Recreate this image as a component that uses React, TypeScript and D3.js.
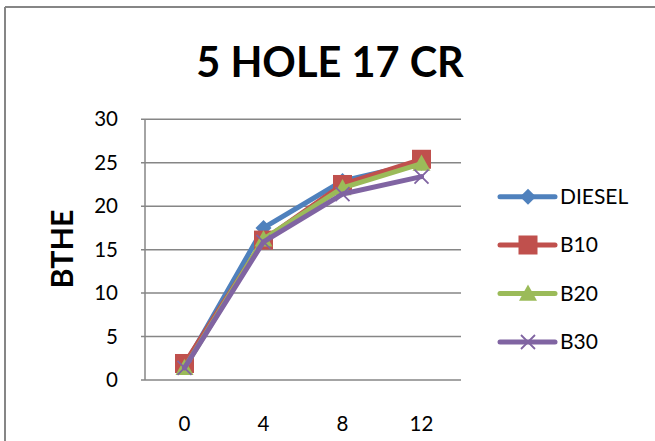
import React from "react";
import * as d3 from "d3";

const categories = ["0", "4", "8", "12"];
const diesel = [1.6, 17.5, 22.9, 25.0];
const b10 = [1.9, 16.1, 22.5, 25.4];
const b20 = [1.4, 16.2, 22.1, 24.9];
const b30 = [1.4, 15.9, 21.4, 23.4];
const yTicks = [0, 5, 10, 15, 20, 25, 30];

const seriesNames = ["DIESEL", "B10", "B20", "B30"];
const seriesColors = ["#4F81BD", "#C0504D", "#9BBB59", "#8064A2"];
const seriesMarkers = ["diamond", "square", "triangle", "cross"];

const W = 655;
const H = 441;
const plot = { left: 145, right: 461, top: 119.3, bottom: 380 };
const FONT = "Lato, 'Open Sans', sans-serif";
const GRID = "#868686";

function Marker({ type, x, y, color }: { type: string; x: number; y: number; color: string }) {
  if (type === "diamond") {
    const s = 8;
    return <path d={`M${x},${y - s}L${x + s},${y}L${x},${y + s}L${x - s},${y}Z`} fill={color} />;
  }
  if (type === "square") {
    const s = 9.5;
    return <rect x={x - s} y={y - s} width={2 * s} height={2 * s} fill={color} />;
  }
  if (type === "triangle") {
    const s = 9;
    return <path d={`M${x},${y - s}L${x + s},${y + s * 0.8}L${x - s},${y + s * 0.8}Z`} fill={color} />;
  }
  const s = 7;
  return (
    <path
      d={`M${x - s},${y - s}L${x + s},${y + s}M${x - s},${y + s}L${x + s},${y - s}`}
      stroke={color}
      strokeWidth={1.8}
      fill="none"
    />
  );
}

export default function App() {
  const data = [diesel, b10, b20, b30];
  const x = d3.scaleBand<string>().domain(categories).range([plot.left, plot.right]).padding(0);
  const y = d3.scaleLinear().domain([0, 30]).range([plot.bottom, plot.top]);
  const cx = (c: string) => (x(c) as number) + x.bandwidth() / 2;
  const line = d3
    .line<number>()
    .x((_, i) => cx(categories[i]))
    .y((d) => y(d));

  const legendX = 500;
  const legendRows = [196.7, 245, 293.5, 342];

  return (
    <svg
      width={W}
      height={H}
      style={{ position: "absolute", left: 0, top: 0, background: "#fff" }}
      fontFamily={FONT}
    >
      {/* frame */}
      <line x1={5} y1={7} x2={W} y2={7} stroke={GRID} strokeWidth={2} />
      <line x1={5} y1={7} x2={5} y2={H} stroke={GRID} strokeWidth={2} />

      {/* title */}
      <text x={330} y={77} textAnchor="middle" fontSize={41.5} fontWeight="bold" fill="#000">
        5 HOLE 17 CR
      </text>

      {/* gridlines and y axis */}
      {yTicks.map((t) => (
        <g key={t}>
          <line x1={plot.left - 4} x2={plot.right} y1={y(t)} y2={y(t)} stroke={GRID} strokeWidth={1.5} />
          <text x={118} y={y(t)} dy="0.35em" textAnchor="end" fontSize={20.5} fill="#000">
            {t}
          </text>
        </g>
      ))}
      <line x1={plot.left} x2={plot.left} y1={plot.top} y2={plot.bottom} stroke={GRID} strokeWidth={1.5} />

      {/* x labels */}
      {categories.map((c) => (
        <text key={c} x={cx(c)} y={424} dy="0.35em" textAnchor="middle" fontSize={20.5} fill="#000">
          {c}
        </text>
      ))}

      {/* y axis title */}
      <text
        transform={`translate(62,249) rotate(-90)`}
        textAnchor="middle"
        dy="0.35em"
        fontSize={30.5}
        fontWeight="bold"
        fill="#000"
      >
        BTHE
      </text>

      {/* series */}
      {data.map((vals, si) => (
        <g key={seriesNames[si]}>
          <path
            d={line(vals) || ""}
            fill="none"
            stroke={seriesColors[si]}
            strokeWidth={5}
            strokeLinejoin="round"
            strokeLinecap="round"
          />
          {vals.map((v, i) => (
            <Marker key={i} type={seriesMarkers[si]} x={cx(categories[i])} y={y(v)} color={seriesColors[si]} />
          ))}
        </g>
      ))}

      {/* legend */}
      {seriesNames.map((n, si) => (
        <g key={n}>
          <line
            x1={legendX}
            x2={legendX + 55}
            y1={legendRows[si]}
            y2={legendRows[si]}
            stroke={seriesColors[si]}
            strokeWidth={5}
            strokeLinecap="round"
          />
          <Marker type={seriesMarkers[si]} x={legendX + 28} y={legendRows[si]} color={seriesColors[si]} />
          <text x={legendX + 60} y={legendRows[si]} dy="0.35em" fontSize={21} fill="#000">
            {n}
          </text>
        </g>
      ))}
    </svg>
  );
}
